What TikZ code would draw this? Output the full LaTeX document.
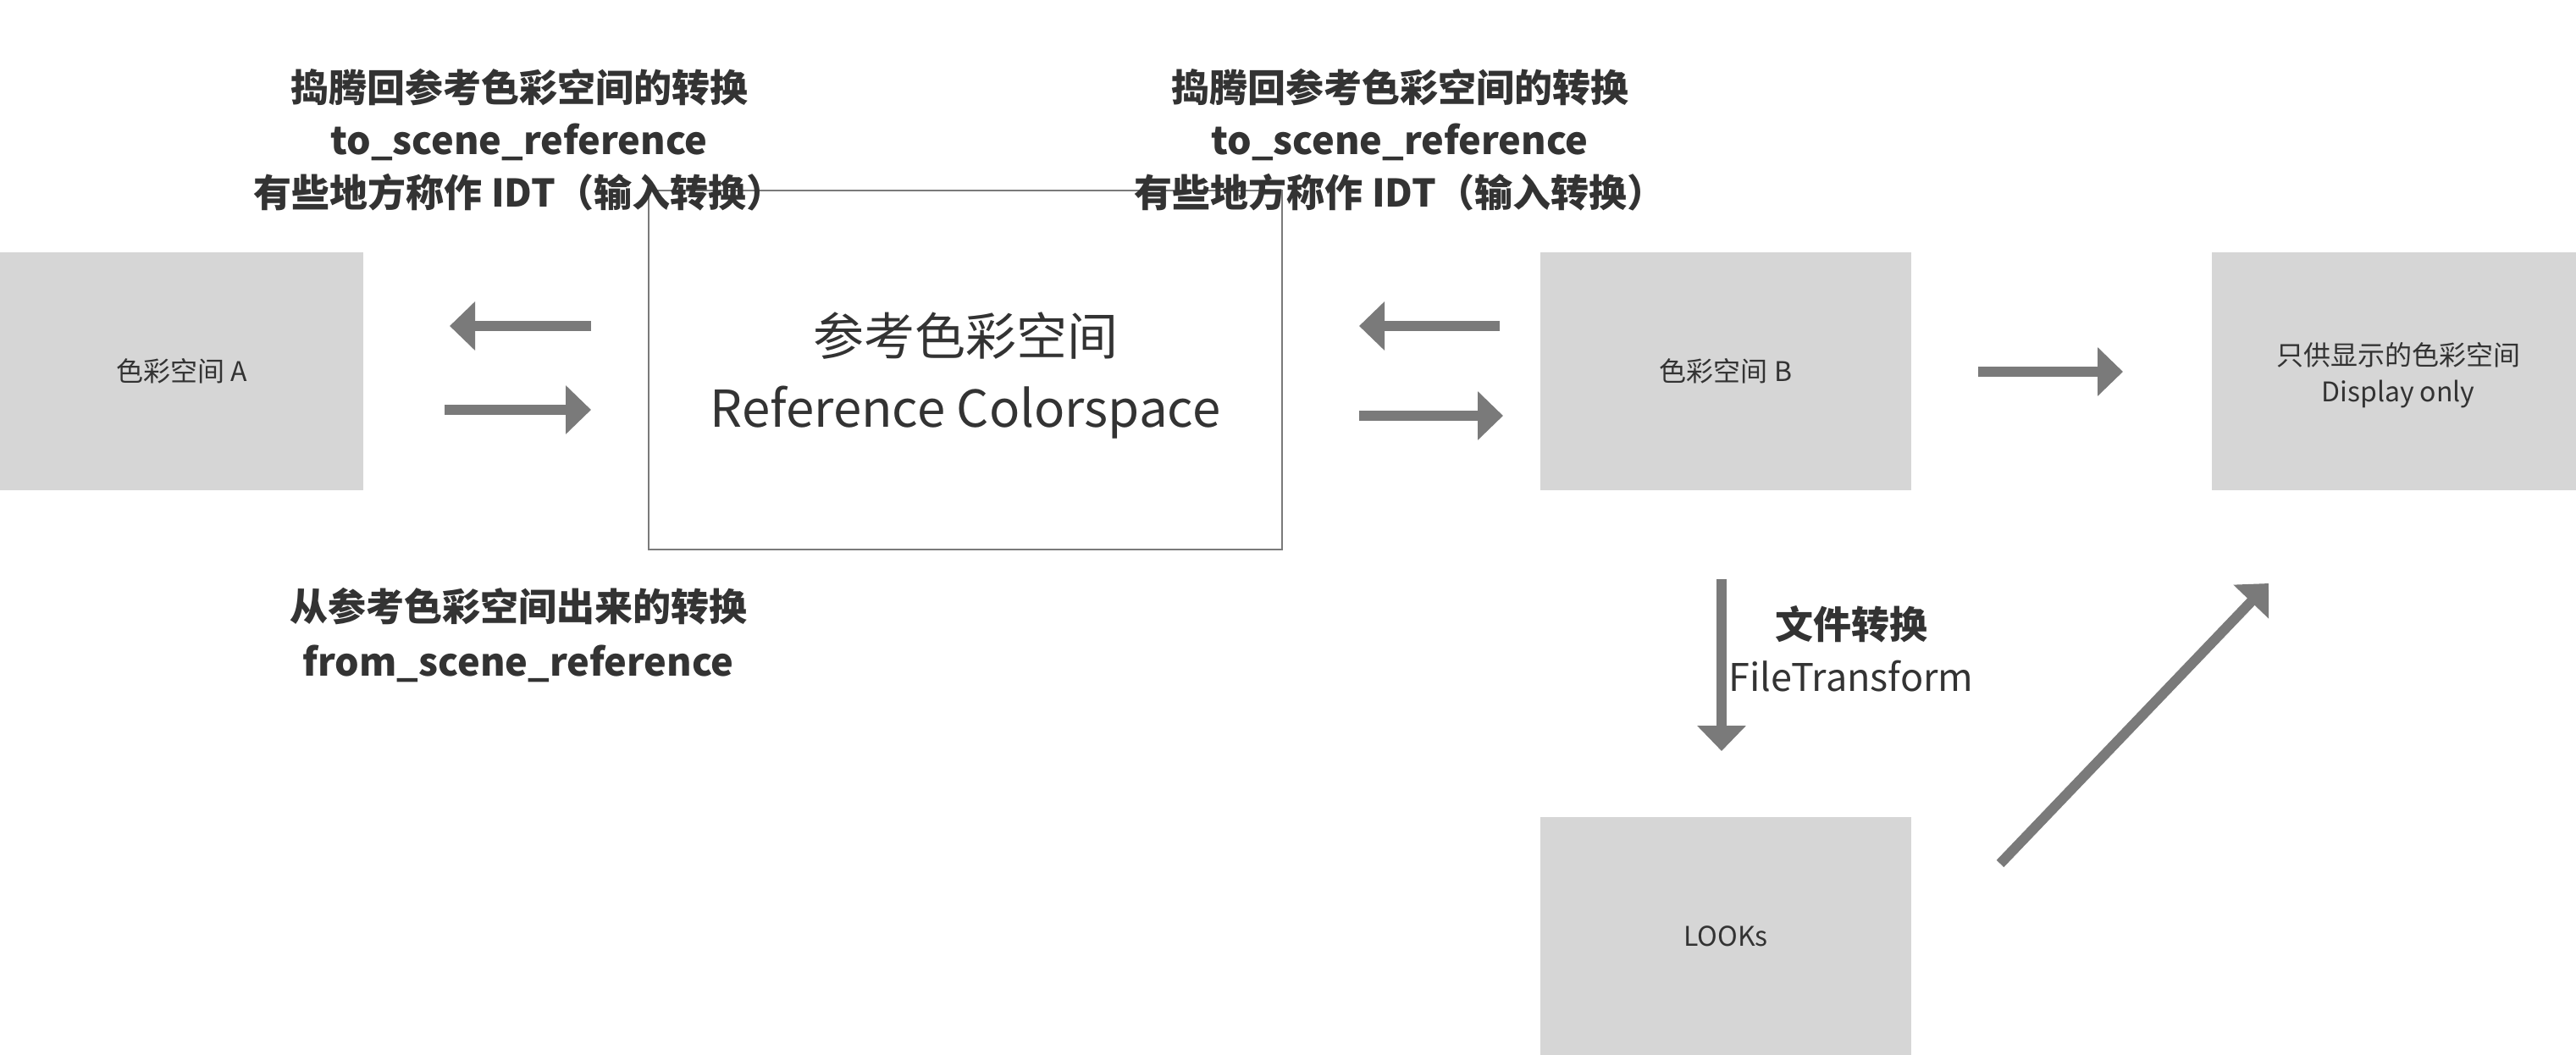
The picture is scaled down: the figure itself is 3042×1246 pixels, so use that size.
\documentclass[tikz,border=0pt]{standalone}
\usepackage{fontspec}
\setmainfont{Noto Sans CJK SC}
\usetikzlibrary{arrows.meta}
\definecolor{boxgray}{HTML}{D6D6D6}
\definecolor{arrgray}{HTML}{7A7A7A}
\definecolor{txt}{HTML}{333333}
\definecolor{refline}{HTML}{7A7A7A}
\begin{document}
\begin{tikzpicture}[x=0.5pt,y=-0.5pt,
  box/.style={fill=boxgray, draw=none, minimum height=140.5pt, inner sep=0pt, text=txt, font=\fontsize{16}{21.5}\selectfont, align=center},
  refbox/.style={draw=refline, line width=1pt, fill=none, minimum width=374pt, minimum height=212pt, inner sep=0pt, text=txt, font=\fontsize{30}{42.5}\selectfont, align=center},
  arr/.style={draw=arrgray, line width=6pt, -{Triangle[length=15pt,width=28pt]}},
  lbl/.style={text=txt, align=center, font=\fontsize{22.5}{31}\selectfont}]
\useasboundingbox[fill=white] (0,0) rectangle (3042,1246);

% boxes
\node[box, minimum width=214.5pt] (A) at (214.5,438.5) {色彩空间 A};
\node[draw=refline, line width=1pt, minimum width=374pt, minimum height=212pt, inner sep=0pt] (R) at (1140,437) {};
\node[text=txt, font=\fontsize{30}{42.5}\selectfont, align=center] (Rt) at (1140,443) {参考色彩空间\\Reference Colorspace};
\node[box, minimum width=219pt] (B) at (2038,438.5) {色彩空间 B};
\node[box, minimum width=220pt] (D) at (2832,438.5) {};
\node[text=txt, font=\fontsize{16}{21.5}\selectfont, align=center] (Dt) at (2832,443) {只供显示的色彩空间\\Display only};
\node[box, minimum width=219pt] (L) at (2038,1105.5) {LOOKs};

% labels
\node[lbl, font=\fontsize{22.5}{31}\selectfont\bfseries] (t1) at (613,165) {捣腾回参考色彩空间的转换\\to\_scene\_reference\\有些地方称作 IDT（输入转换）};
\node[lbl, font=\fontsize{22.5}{31}\selectfont\bfseries] (t2) at (1653,165) {捣腾回参考色彩空间的转换\\to\_scene\_reference\\有些地方称作 IDT（输入转换）};
\node[lbl, font=\fontsize{22.5}{32.5}\selectfont\bfseries] (t3) at (612,750) {从参考色彩空间出来的转换\\from\_scene\_reference};
\node[lbl] (t4) at (2186,766) {\textbf{文件转换}\\FileTransform};

% arrow end points
\coordinate (p1s) at (698,385);  \coordinate (p1e) at (531,385);
\coordinate (p2s) at (525,484);  \coordinate (p2e) at (698,484);
\coordinate (p3s) at (1771,385); \coordinate (p3e) at (1605,385);
\coordinate (p4s) at (1605,491); \coordinate (p4e) at (1775,491);
\coordinate (p5s) at (2336,439); \coordinate (p5e) at (2507,439);
\coordinate (p6s) at (2033,684); \coordinate (p6e) at (2033,887);
\coordinate (p7s) at (2362,1020); \coordinate (p7e) at (2679,689);

\draw[arr] (p1s) -- (p1e);
\draw[arr] (p2s) -- (p2e);
\draw[arr] (p3s) -- (p3e);
\draw[arr] (p4s) -- (p4e);
\draw[arr] (p5s) -- (p5e);
\draw[arr] (p6s) -- (p6e);
\draw[arr] (p7s) -- (p7e);
\end{tikzpicture}
\end{document}
